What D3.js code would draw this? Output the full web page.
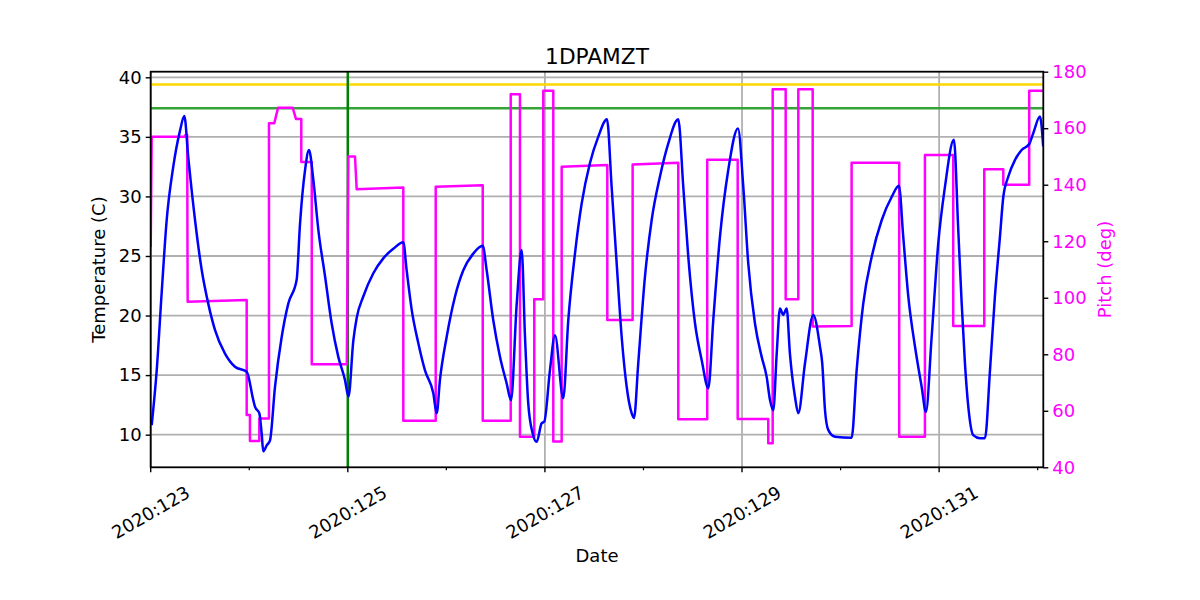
<!DOCTYPE html>
<html><head><meta charset="utf-8">
<script src="https://cdn.jsdelivr.net/npm/d3@7"></script>
<style>body{margin:0;background:#fff} svg{display:block} text{font-family:"DejaVu Sans",sans-serif}</style>
</head><body><svg id="c" width="1200" height="600"></svg>
<script>
// ---- data ----
const tempDays=[123.010,123.061,123.112,123.162,123.229,123.297,123.341,123.381,123.450,123.518,123.584,123.652,123.754,123.855,123.974,124.041,124.058,124.102,124.126,124.142,124.177,124.210,124.261,124.329,124.396,124.481,124.515,124.566,124.606,124.650,124.701,124.769,124.836,124.903,124.971,125.007,125.056,125.090,125.157,125.259,125.360,125.461,125.563,125.597,125.648,125.715,125.783,125.867,125.902,125.935,126.003,126.088,126.172,126.273,126.369,126.409,126.476,126.544,126.612,126.656,126.714,126.764,126.798,126.831,126.876,126.916,126.967,126.994,127.051,127.102,127.186,127.237,127.305,127.373,127.457,127.541,127.630,127.677,127.728,127.779,127.830,127.880,127.904,127.947,128.015,128.083,128.167,128.252,128.353,128.404,128.455,128.523,128.591,128.658,128.708,128.776,128.860,128.959,129.013,129.063,129.131,129.199,129.250,129.284,129.317,129.352,129.385,129.418,129.453,129.486,129.537,129.571,129.639,129.723,129.791,129.814,129.842,129.875,129.943,130.112,130.163,130.230,130.315,130.417,130.518,130.592,130.636,130.687,130.755,130.823,130.866,130.924,130.991,131.059,131.150,131.194,131.229,131.262,131.296,131.346,131.414,131.465,131.516,131.566,131.617,131.651,131.701,131.769,131.837,131.914,131.955,132.023,132.056];
const tempValues=[10.8,15.4,22.0,28.0,32.5,35.5,36.75,33.3,28.0,23.8,21.0,18.8,16.8,15.7,15.28,12.9,12.35,11.8,10.1,8.6,9.1,9.5,14.0,18.2,21.0,23.0,27.7,32.2,33.9,31.4,27.2,23.3,19.35,16.55,14.6,13.2,17.9,19.8,21.6,23.55,24.8,25.6,26.15,23.8,20.5,17.7,15.4,13.5,11.8,14.6,18.2,21.6,23.8,25.2,25.85,23.8,19.6,16.55,14.3,12.9,21.0,25.5,18.2,12.6,10.1,9.4,10.95,11.1,15.4,18.35,13.05,19.6,25.2,29.4,32.8,35.0,36.47,30.8,24.4,18.2,14.0,11.8,11.4,15.99,23.25,28.0,31.65,34.45,36.47,30.8,24.9,19.35,16.25,13.9,19.6,26.6,32.2,35.7,30.8,24.4,19.35,16.55,14.85,12.9,12.05,16.8,20.6,20.05,20.6,16.8,13.2,11.8,15.99,20.05,17.4,15.99,12.05,10.4,9.83,9.74,15.4,21.0,24.9,28.0,29.95,30.9,26.6,21.6,17.4,14.0,11.9,18.2,26.05,30.8,34.75,27.2,21.0,15.99,12.35,9.96,9.7,9.7,15.4,21.6,26.6,29.95,31.65,33.05,33.9,34.4,35.3,36.7,34.2];
const pitchDays=[123.000,123.010,123.345,123.352,123.370,123.375,123.974,123.974,124.007,124.007,124.102,124.102,124.200,124.200,124.254,124.292,124.441,124.474,124.528,124.528,124.634,124.634,124.990,125.005,125.073,125.090,125.563,125.563,125.892,125.892,126.369,126.369,126.653,126.653,126.747,126.747,126.892,126.892,126.983,126.983,127.085,127.085,127.170,127.170,127.633,127.633,127.890,127.890,128.353,128.353,128.647,128.647,128.956,128.956,129.266,129.266,129.311,129.311,129.443,129.443,129.571,129.571,129.717,129.717,130.112,130.112,130.595,130.595,130.856,130.856,131.143,131.143,131.458,131.458,131.651,131.651,131.914,131.914,132.056];
const pitchValues=[118,157,157,157.6,157.6,98.6,99.2,58.5,58.5,49.3,49.3,57.3,57.3,161.8,161.8,167.2,167.2,163.3,163.3,148.0,148.0,76.5,76.5,150.0,150.0,138.4,139.0,56.5,56.5,139.3,139.8,56.5,56.5,172.0,172.0,50.8,50.8,99.5,99.5,173.3,173.3,49.1,49.1,146.4,147.0,92.1,92.1,147.2,147.8,57.0,57.0,148.8,148.8,57.1,57.1,48.5,48.5,173.8,173.8,99.5,99.5,173.8,173.8,89.8,90.0,147.8,147.8,50.8,50.8,150.5,150.5,90.0,90.0,145.5,145.5,140.0,140.0,173.3,173.3];
const tempTicks=[10,15,20,25,30,35,40];
const pitchTicks=[40,60,80,100,120,140,160,180];
const majorDays=[123,125,127,129,131];
const minorDays=[124,126,128,130,132];
const dayLabels=["2020:123","2020:125","2020:127","2020:129","2020:131"];
const yellowLimit=39.4, planningLimit=37.4, markerDay=125;
const chartTitle="1DPAMZT";

// ---- layout ----
const L=150.7,R=1043.3,T=71.7,B=467.3;
const FS=18;
const svg=d3.select("#c");
const x=d3.scaleLinear().domain([123.0,132.057]).range([L,R]);
const yT=d3.scaleLinear().domain([7.26,40.47]).range([B,T]);
const yP=d3.scaleLinear().domain([40,180]).range([B,T]);

svg.append("defs").append("clipPath").attr("id","clip").append("rect")
  .attr("x",L).attr("y",T).attr("width",R-L).attr("height",B-T);

const grid=svg.append("g");
grid.selectAll(".hg").data(tempTicks).join("line")
  .attr("x1",L).attr("x2",R).attr("y1",d=>yT(d)).attr("y2",d=>yT(d))
  .attr("stroke","#b0b0b0").attr("stroke-width",1.8);
grid.selectAll(".vg").data(majorDays).join("line")
  .attr("y1",T).attr("y2",B).attr("x1",d=>x(d)).attr("x2",d=>x(d))
  .attr("stroke","#b0b0b0").attr("stroke-width",1.8);

const plot=svg.append("g").attr("clip-path","url(#clip)");
plot.append("line").attr("x1",L).attr("x2",R).attr("y1",yT(yellowLimit)).attr("y2",yT(yellowLimit))
  .attr("stroke","#ffd700").attr("stroke-width",2.5);
plot.append("line").attr("x1",L).attr("x2",R).attr("y1",yT(planningLimit)).attr("y2",yT(planningLimit))
  .attr("stroke","#36a336").attr("stroke-width",2.5);
plot.append("line").attr("y1",T).attr("y2",B).attr("x1",x(markerDay)).attr("x2",x(markerDay))
  .attr("stroke","#008000").attr("stroke-width",2.5);

const pitchLine=d3.line().x((d,i)=>x(pitchDays[i])).y((d,i)=>yP(pitchValues[i]));
plot.append("path").attr("d",pitchLine(pitchValues)).attr("fill","none")
  .attr("stroke","#ff00ff").attr("stroke-width",2.5).attr("stroke-linejoin","round");
const tempLine=d3.line().x((d,i)=>x(tempDays[i])).y((d,i)=>yT(tempValues[i])).curve(d3.curveMonotoneX);
plot.append("path").attr("d",tempLine(tempValues)).attr("fill","none")
  .attr("stroke","#0000ff").attr("stroke-width",2.5).attr("stroke-linejoin","round");

// frame
svg.append("rect").attr("x",L).attr("y",T).attr("width",R-L).attr("height",B-T)
  .attr("fill","none").attr("stroke","#000").attr("stroke-width",1.8);

// left axis
const ax=d3.axisLeft(yT).tickValues(tempTicks).tickSize(5).tickPadding(4).tickFormat(d3.format("d"));
const gl=svg.append("g").attr("transform",`translate(${L},0)`).call(ax);
gl.select(".domain").remove();
gl.selectAll("line").attr("stroke","#000").attr("stroke-width",1.4);
gl.selectAll("text").attr("font-size",FS).attr("font-family","DejaVu Sans").attr("fill","#000");

// right axis
const axR=d3.axisRight(yP).tickValues(pitchTicks).tickSize(5).tickPadding(4).tickFormat(d3.format("d"));
const gr=svg.append("g").attr("transform",`translate(${R},0)`).call(axR);
gr.select(".domain").remove();
gr.selectAll("line").attr("stroke","#000").attr("stroke-width",1.4);
gr.selectAll("text").attr("font-size",FS).attr("font-family","DejaVu Sans").attr("fill","#ff00ff");

// bottom ticks
const gb=svg.append("g");
gb.selectAll(".mj").data(majorDays).join("line")
  .attr("x1",d=>x(d)).attr("x2",d=>x(d)).attr("y1",B).attr("y2",B+5)
  .attr("stroke","#000").attr("stroke-width",1.4);
gb.selectAll(".mn").data(minorDays).join("line")
  .attr("x1",d=>x(d)).attr("x2",d=>x(d)).attr("y1",B).attr("y2",B+3)
  .attr("stroke","#000").attr("stroke-width",1.2);
gb.selectAll(".lab").data(majorDays).join("text")
  .attr("font-size",FS).attr("fill","#000")
  .attr("text-anchor","middle").attr("dominant-baseline","central")
  .text((d,i)=>dayLabels[i])
  .each(function(d){
    const w=this.getComputedTextLength();
    const h=FS*0.95;
    const bh=w*0.5+h*0.866;
    const cx=x(d), cy=B+16+bh/2;
    d3.select(this).attr("x",cx).attr("y",cy).attr("transform",`rotate(-30 ${cx} ${cy})`);
  });

// labels
svg.append("text").attr("x",(L+R)/2).attr("y",64).attr("text-anchor","middle")
  .attr("font-size",21.7).attr("fill","#000").text(chartTitle);
svg.append("text").attr("x",(L+R)/2).attr("y",562).attr("text-anchor","middle")
  .attr("font-size",FS).attr("fill","#000").text("Date");
svg.append("text").attr("transform",`translate(105,${(T+B)/2}) rotate(-90)`).attr("text-anchor","middle")
  .attr("font-size",FS).attr("fill","#000").text("Temperature (C)");
svg.append("text").attr("transform",`translate(1111,${(T+B)/2}) rotate(-90)`).attr("text-anchor","middle")
  .attr("font-size",FS).attr("fill","#ff00ff").text("Pitch (deg)");
</script></body></html>
